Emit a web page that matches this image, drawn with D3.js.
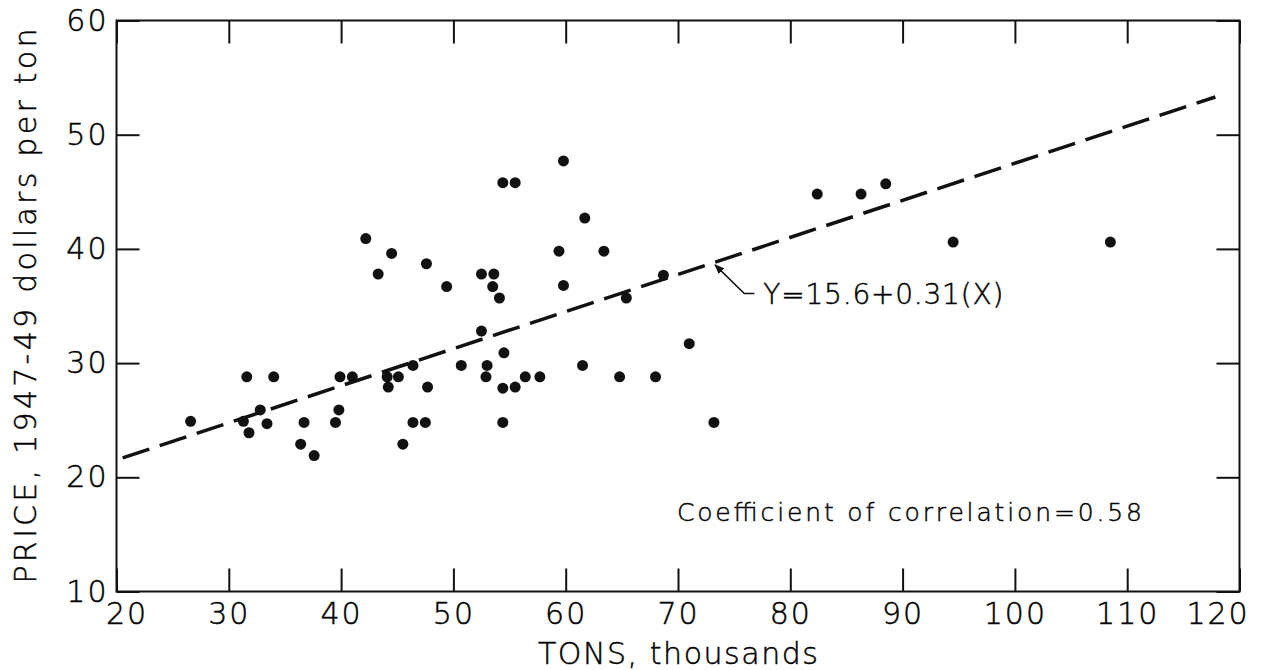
<!DOCTYPE html>
<html>
<head>
<meta charset="utf-8">
<script src="https://cdn.jsdelivr.net/npm/d3@7"></script>
<style>
  body { margin: 0; background: #fff; }
  svg { display: block; }
  text { font-family: "DejaVu Sans", sans-serif; font-weight: 200; fill: #000; stroke: #000; stroke-width: 0.45; }
</style>
</head>
<body>
<svg></svg>
<script>
// tons (thousands) and price (1947-49 dollars per ton)
const tons = [26.6, 31.3, 31.6, 31.8, 32.8, 33.4, 34.0, 36.4, 36.7, 37.6,
              39.5, 39.8, 39.9, 41.0, 42.2, 43.3, 44.5, 44.1, 44.2, 45.1,
              45.5, 46.4, 46.4, 47.5, 47.6, 47.7, 49.4, 50.7, 52.5, 52.5,
              52.9, 53.0, 53.6, 53.5, 54.1, 54.4, 54.5, 54.4, 54.4, 55.5,
              55.5, 56.4, 57.7, 59.4, 59.8, 59.8, 61.5, 61.7, 63.4, 64.8,
              65.4, 68.0, 68.7, 71.0, 73.2, 82.4, 86.3, 88.5, 94.5, 108.5];
const prices = [24.9, 24.9, 28.8, 23.9, 25.9, 24.7, 28.8, 22.9, 24.8, 21.9,
                24.8, 25.9, 28.8, 28.8, 40.9, 37.8, 39.6, 28.8, 27.9, 28.8,
                22.9, 29.8, 24.8, 24.8, 38.7, 27.9, 36.7, 29.8, 37.8, 32.8,
                28.8, 29.8, 37.8, 36.7, 35.7, 45.8, 30.9, 27.8, 24.8, 27.9,
                45.8, 28.8, 28.8, 39.8, 47.7, 36.8, 29.8, 42.7, 39.8, 28.8,
                35.7, 28.8, 37.7, 31.7, 24.8, 44.8, 44.8, 45.7, 40.6, 40.6];

const xTicks = [20, 30, 40, 50, 60, 70, 80, 90, 100, 110, 120];
const yTicks = [10, 20, 30, 40, 50, 60];

// regression line as drawn: Y = 15.6 + 0.31(X)
const fitX = [20.55, 117.85];
const fitY = [21.7, 53.3];

const equation = "Y=15.6+0.31(X)";
const correlation = "Coefficient of correlation=0.58";

const width = 1264;
const height = 670;

const x = d3.scaleLinear().domain([20, 120]).range([116.5, 1239.5]);
const y = d3.scaleLinear().domain([10, 60]).range([591.5, 20.5]);

const svg = d3.select('svg')
    .attr('width', width)
    .attr('height', height);

// frame
svg.append('rect')
    .attr('x', x(20)).attr('y', y(60))
    .attr('width', x(120) - x(20)).attr('height', y(10) - y(60))
    .attr('fill', 'none').attr('stroke', '#111').attr('stroke-width', 2);

// bottom axis with inward ticks and labels
const gx = svg.append('g')
    .attr('transform', `translate(0,${y(10)})`)
    .call(d3.axisBottom(x).tickValues(xTicks).tickSizeInner(-23).tickSizeOuter(0).tickPadding(11));
gx.selectAll('text')
    .attr('font-size', 30)
    .attr('letter-spacing', 2)
    .attr('dx', (d, i) => i === 0 ? 10 : (i === xTicks.length - 1 ? -22 : 0));

// top ticks
svg.append('g')
    .attr('transform', `translate(0,${y(60)})`)
    .call(d3.axisTop(x).tickValues(xTicks).tickSizeInner(-23).tickSizeOuter(0).tickFormat(''));

// left axis
const gy = svg.append('g')
    .attr('transform', `translate(${x(20)},0)`)
    .call(d3.axisLeft(y).tickValues(yTicks).tickSizeInner(-23).tickSizeOuter(0).tickPadding(8));
gy.selectAll('text')
    .attr('font-size', 30)
    .attr('letter-spacing', 2);

// right ticks
svg.append('g')
    .attr('transform', `translate(${x(120)},0)`)
    .call(d3.axisRight(y).tickValues(yTicks).tickSizeInner(-23).tickSizeOuter(0).tickFormat(''));

svg.selectAll('.domain').remove();
svg.selectAll('.tick line').attr('stroke', '#111').attr('stroke-width', 2);

// regression line
svg.append('path')
    .datum(d3.zip(fitX, fitY))
    .attr('d', d3.line().x(d => x(d[0])).y(d => y(d[1])))
    .attr('fill', 'none')
    .attr('stroke', '#111')
    .attr('stroke-width', 3.5)
    .attr('stroke-dasharray', '28,11');

// points
svg.append('g').selectAll('circle')
    .data(d3.zip(tons, prices))
    .enter().append('circle')
        .attr('cx', d => x(d[0]))
        .attr('cy', d => y(d[1]))
        .attr('r', 5.5)
        .attr('fill', '#111');

// arrow pointing at the line
svg.append('defs').append('marker')
    .attr('id', 'head')
    .attr('viewBox', '0 0 10 10')
    .attr('refX', 9).attr('refY', 5)
    .attr('markerWidth', 10).attr('markerHeight', 10)
    .attr('markerUnits', 'userSpaceOnUse')
    .attr('orient', 'auto')
    .append('path')
        .attr('d', 'M0,1 L10,5 L0,9 Z')
        .attr('fill', '#111');

const arrowPts = [[76.8, 36.1], [75.9, 36.1], [73.3, 38.6]];
svg.append('path')
    .datum(arrowPts)
    .attr('d', d3.line().x(d => x(d[0])).y(d => y(d[1])))
    .attr('fill', 'none')
    .attr('stroke', '#111')
    .attr('stroke-width', 1.5)
    .attr('marker-end', 'url(#head)');

svg.append('text')
    .attr('x', x(77.6)).attr('y', y(35.2))
    .attr('font-size', 28)
    .attr('textLength', 240).attr('lengthAdjust', 'spacing')
    .text(equation);

svg.append('text')
    .attr('x', x(69.9)).attr('y', y(16.2))
    .attr('font-size', 25)
    .attr('textLength', 465).attr('lengthAdjust', 'spacing')
    .text(correlation);

// axis titles
svg.append('text')
    .attr('x', (x(20) + x(120)) / 2)
    .attr('y', 664)
    .attr('text-anchor', 'middle')
    .attr('font-size', 30)
    .attr('textLength', 280).attr('lengthAdjust', 'spacing')
    .text('TONS, thousands');

svg.append('text')
    .attr('transform', `translate(36,${(y(10) + y(60)) / 2}) rotate(-90)`)
    .attr('text-anchor', 'middle')
    .attr('font-size', 30)
    .attr('textLength', 555).attr('lengthAdjust', 'spacing')
    .text('PRICE, 1947-49 dollars per ton');
</script>
</body>
</html>
